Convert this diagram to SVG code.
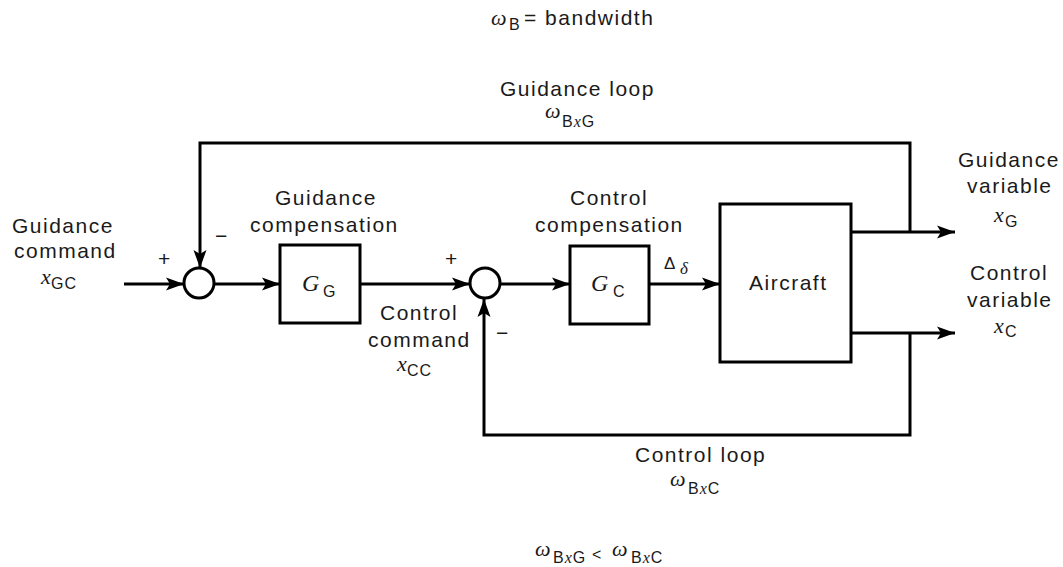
<svg xmlns="http://www.w3.org/2000/svg" width="1063" height="567" viewBox="0 0 1063 567">
<style>
.t{font-family:"Liberation Sans",Arial,sans-serif;font-size:21px;letter-spacing:1.5px;fill:#1a1a1a}
.s{font-family:"Liberation Sans",Arial,sans-serif;font-size:16px;letter-spacing:1px;fill:#1a1a1a}
.w{font-family:"Liberation Serif","DejaVu Serif",serif;font-style:italic;font-size:22px;fill:#1a1a1a}
.v{font-family:"Liberation Serif","DejaVu Serif",serif;font-style:italic;font-size:24px;fill:#1a1a1a}
.b{fill:#fff;stroke:#000;stroke-width:3}
.c{fill:none;stroke:#000;stroke-width:3}
</style>
<defs>
<marker id="ah" markerUnits="userSpaceOnUse" markerWidth="20" markerHeight="14" refX="18" refY="7" orient="auto">
<path d="M0,0.5 L18,7 L0,13.5 L4,7 Z" fill="#000"/>
</marker>
</defs>
<rect width="1063" height="567" fill="#fff"/>

<g id="connectors">
<line class="c" x1="124" y1="284" x2="184" y2="284" marker-end="url(#ah)"/>
<line class="c" x1="214" y1="284" x2="280" y2="284" marker-end="url(#ah)"/>
<line class="c" x1="360" y1="284" x2="470" y2="284" marker-end="url(#ah)"/>
<line class="c" x1="500" y1="284" x2="570" y2="284" marker-end="url(#ah)"/>
<line class="c" x1="649" y1="284" x2="720" y2="284" marker-end="url(#ah)"/>
<line class="c" x1="851" y1="232" x2="955" y2="232" marker-end="url(#ah)"/>
<line class="c" x1="851" y1="333" x2="955" y2="333" marker-end="url(#ah)"/>
<polyline class="c" points="910,232 910,143 200,143 200,268" marker-end="url(#ah)"/>
<polyline class="c" points="910,333 910,435 484,435 484,299" marker-end="url(#ah)"/>
</g>

<g id="sum1"><circle class="b" cx="199" cy="283" r="15"/></g>
<g id="sum2"><circle class="b" cx="485" cy="283" r="15"/></g>

<g id="guidance-compensation">
<rect class="b" x="280" y="245" width="80" height="78"/>
<text class="v" x="302" y="291">G</text><text class="s" x="323" y="297">G</text>
</g>
<g id="control-compensation">
<rect class="b" x="570" y="246" width="79" height="78"/>
<text class="v" x="591" y="291">G</text><text class="s" x="613" y="297">C</text>
</g>
<g id="aircraft">
<rect class="b" x="720" y="204" width="131" height="158"/>
<text class="t" x="749" y="290">Aircraft</text>
</g>

<g id="labels">
<text class="w" x="491" y="25">ω</text><text class="s" x="509" y="30">B</text><text class="t" x="524" y="25">= bandwidth</text>

<text class="t" x="500" y="96">Guidance loop</text>
<text class="w" x="545" y="118">ω</text><text class="s" x="562" y="127">B<tspan font-family="Liberation Serif" font-style="italic">x</tspan>G</text>

<text class="t" x="12" y="233">Guidance</text>
<text class="t" x="14" y="258">command</text>
<text class="w" x="41" y="284">x</text><text class="s" x="51" y="289">GC</text>
<text class="t" x="158" y="266">+</text>
<text class="t" x="215" y="243">−</text>

<text class="t" x="275" y="205">Guidance</text>
<text class="t" x="250" y="232">compensation</text>

<text class="t" x="445" y="266">+</text>
<text class="t" x="496" y="340">−</text>
<text class="t" x="380" y="320">Control</text>
<text class="t" x="368" y="347">command</text>
<text class="w" x="397" y="371">x</text><text class="s" x="407" y="376">CC</text>

<text class="t" x="570" y="205">Control</text>
<text class="t" x="535" y="232">compensation</text>
<text class="s" x="664" y="269" style="font-size:17px">Δ</text><text class="w" x="680" y="274" style="font-size:17px">δ</text>

<text class="t" x="958" y="167">Guidance</text>
<text class="t" x="967" y="193">variable</text>
<text class="w" x="994" y="222">x</text><text class="s" x="1005" y="227">G</text>
<text class="t" x="970" y="280">Control</text>
<text class="t" x="967" y="307">variable</text>
<text class="w" x="994" y="333">x</text><text class="s" x="1005" y="337">C</text>

<text class="t" x="635" y="462">Control loop</text>
<text class="w" x="670" y="486">ω</text><text class="s" x="688" y="494">B<tspan font-family="Liberation Serif" font-style="italic">x</tspan>C</text>

<text class="w" x="535" y="556">ω</text><text class="s" x="553" y="563">B<tspan font-family="Liberation Serif" font-style="italic">x</tspan>G</text>
<text class="s" x="592" y="560">&lt;</text>
<text class="w" x="612" y="556">ω</text><text class="s" x="631" y="563">B<tspan font-family="Liberation Serif" font-style="italic">x</tspan>C</text>
</g>
</svg>
